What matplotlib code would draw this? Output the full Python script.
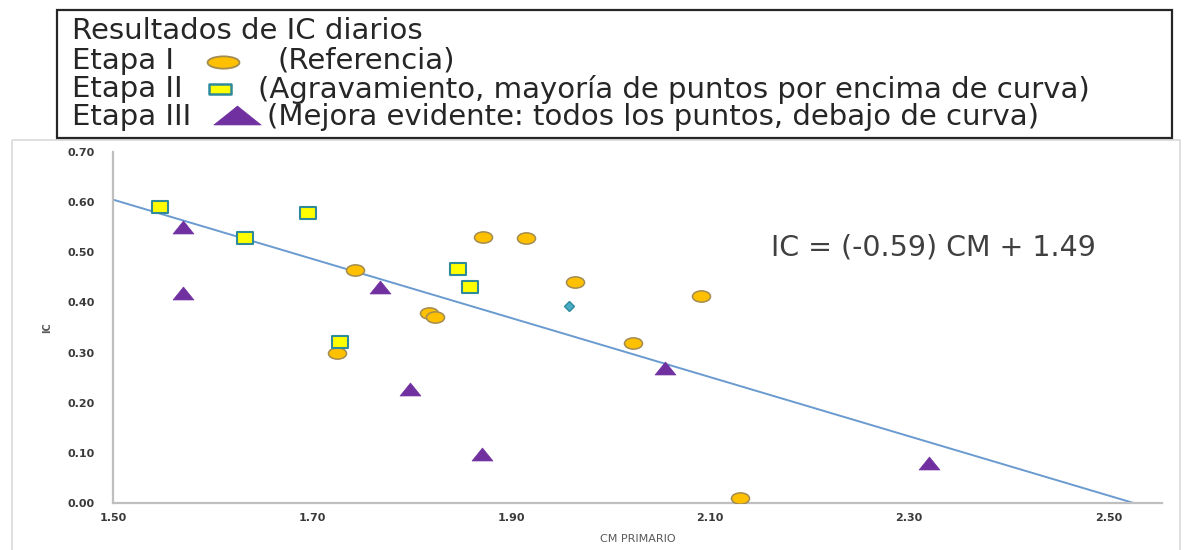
import numpy as np
import matplotlib
matplotlib.use("Agg")
import matplotlib.pyplot as plt
from matplotlib.path import Path
from matplotlib.patches import Rectangle
import matplotlib.transforms as mtransforms

# Etapa I (referencia)
cm_etapa1 = [1.743, 1.725, 1.872, 1.915, 1.818, 1.824, 1.964, 2.091, 2.022, 2.130]
ic_etapa1 = [0.464, 0.299, 0.530, 0.528, 0.378, 0.370, 0.440, 0.412, 0.319, 0.010]

# Etapa II (agravamiento)
cm_etapa2 = [1.547, 1.633, 1.696, 1.847, 1.859, 1.728]
ic_etapa2 = [0.590, 0.528, 0.578, 0.466, 0.430, 0.321]

# Etapa III (mejora)
cm_etapa3 = [1.570, 1.570, 1.768, 1.798, 1.871, 2.055, 2.320]
ic_etapa3 = [0.550, 0.418, 0.430, 0.227, 0.098, 0.269, 0.080]

# punto medio
cm_medio = [1.958]
ic_medio = [0.392]

# recta de ajuste IC = a*CM + b
pendiente = -0.59
intercepto = 1.49

x_ticks = [1.50, 1.70, 1.90, 2.10, 2.30, 2.50]
y_ticks = [0.00, 0.10, 0.20, 0.30, 0.40, 0.50, 0.60, 0.70]

# marker shapes (the source image is stretched horizontally)
def stretched(path, sx, sy):
    return path.transformed(mtransforms.Affine2D().scale(sx, sy))

ellipse = stretched(Path.unit_circle(), 1.6, 1.0)
rect = stretched(Path.unit_rectangle().transformed(mtransforms.Affine2D().translate(-0.5, -0.5)), 1.45, 1.0)
tri = Path([(-1.0, -0.62), (1.0, -0.62), (0.0, 0.62), (-1.0, -0.62)], closed=True)

ellipse_leg = stretched(Path.unit_circle(), 2.6, 1.0)
rect_leg = stretched(Path.unit_rectangle().transformed(mtransforms.Affine2D().translate(-0.5, -0.5)), 2.2, 1.0)
tri_leg = Path([(-1.0, -0.4), (1.0, -0.4), (0.0, 0.4), (-1.0, -0.4)], closed=True)

c_orange, e_orange = "#ffc000", "#a28c52"
c_yellow, e_teal = "#ffff00", "#2f8a9c"
c_purple = "#7030a0"
c_line = "#6a9bd0"

fig = plt.figure(figsize=(11.84, 5.5), dpi=100)

W, H = 1184, 550
ax = fig.add_axes([113 / W, (H - 503) / H, (1162 - 113) / W, (503 - 152) / H])

# trend line
x_fit = np.array([1.5, -intercepto / pendiente])
ax.plot(x_fit, pendiente * x_fit + intercepto, color=c_line, lw=1.4, zorder=1)

ax.plot(cm_etapa1, ic_etapa1, ls="none", marker=ellipse, ms=13, mfc=c_orange,
        mec=e_orange, mew=1.1, zorder=3)
ax.plot(cm_etapa2, ic_etapa2, ls="none", marker=rect, ms=12, mfc=c_yellow,
        mec=e_teal, mew=1.5, zorder=3)
ax.plot(cm_etapa3, ic_etapa3, ls="none", marker=tri, ms=15, mfc=c_purple,
        mec=c_purple, mew=0.5, zorder=3)
ax.plot(cm_medio, ic_medio, ls="none", marker="D", ms=5.5, mfc="#4bacc6",
        mec="#2f8a9c", mew=1, zorder=3)

ax.set_xlim(1.5, 2.554)
ax.set_ylim(0, 0.7)
ax.set_xticks(x_ticks)
ax.set_xticklabels(["%.2f" % v for v in x_ticks])
ax.set_yticks(y_ticks)
ax.set_yticklabels(["%.2f" % v for v in y_ticks])
ax.tick_params(length=0, labelsize=8, labelcolor="#3a3a3a")
ax.tick_params(axis="y", pad=13)
ax.tick_params(axis="x", pad=7)
for lab in ax.get_xticklabels() + ax.get_yticklabels():
    lab.set_fontweight("bold")

for s in ["top", "right"]:
    ax.spines[s].set_visible(False)
for s in ["left", "bottom"]:
    ax.spines[s].set_color("#bfbfbf")
    ax.spines[s].set_linewidth(1.6)

ax.set_xlabel("CM PRIMARIO", fontsize=8, color="#595959")
ax.xaxis.set_label_coords(0.5, -0.088)
ax.set_ylabel("IC", fontsize=7, color="#595959", fontweight="bold")
ax.yaxis.set_label_coords(-0.058, 0.5)

ax.text(2.161, 0.51, "IC = (-0.59) CM + 1.49", fontsize=20.5, color="#404040",
        ha="left", va="center")

# overlay in pixel coordinates for the chart frame and the legend box
ov = fig.add_axes([0, 0, 1, 1], zorder=5)
ov.set_xlim(0, W)
ov.set_ylim(H, 0)
ov.axis("off")

ov.add_patch(Rectangle((12, 140), 1168, 430, fill=False, ec="#d9d9d9", lw=1.2))
ov.add_patch(Rectangle((57, 10), 1115, 128, fc="white", ec="#262626", lw=1.6))

fs = 21
tc = "#262626"
ov.text(72, 31, "Resultados de IC diarios", fontsize=fs, color=tc, va="center")
ov.text(72, 61, "Etapa I", fontsize=fs, color=tc, va="center")
ov.text(72, 89, "Etapa II", fontsize=fs, color=tc, va="center")
ov.text(72, 117, "Etapa III", fontsize=fs, color=tc, va="center")
ov.text(277, 61, "(Referencia)", fontsize=fs, color=tc, va="center")
ov.text(258, 89, "(Agravamiento, mayoría de puntos por encima de curva)",
        fontsize=fs, color=tc, va="center")
ov.text(267, 117, "(Mejora evidente: todos los puntos, debajo de curva)",
        fontsize=fs, color=tc, va="center")

ov.plot([223], [62], marker=ellipse_leg, ms=23, mfc=c_orange, mec=e_orange, mew=1.3)
ov.plot([220], [89], marker=rect_leg, ms=16, mfc=c_yellow, mec=e_teal, mew=1.8)
ov.plot([237], [115], marker=tri_leg, ms=34, mfc=c_purple, mec=c_purple, mew=0.5)

fig.savefig("out.png", dpi=100)
